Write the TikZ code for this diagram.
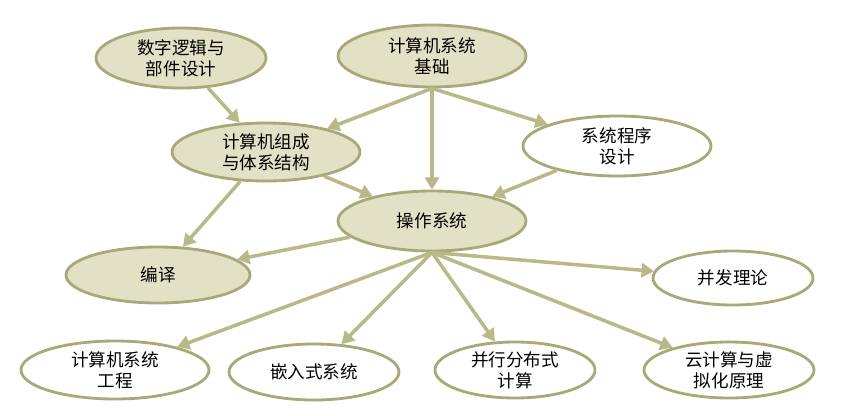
\documentclass[tikz,border=0pt]{standalone}
\usepackage{fontspec}
\newfontfamily\cjk{Noto Sans CJK SC}
\usetikzlibrary{shapes.geometric,arrows.meta}
\definecolor{olive}{HTML}{A8A878}
\definecolor{olivefill}{HTML}{E2E1C6}
\definecolor{arrowc}{HTML}{B8B888}
\begin{document}
\begin{tikzpicture}[x=0.02cm, y=-0.02cm,
            topic/.style={ellipse, draw=olive, line width=1.6pt, inner sep=0pt, font=\cjk\fontsize{10}{12}\selectfont, align=center},
            core/.style={topic, fill=olivefill},
            arrow/.style={-{Triangle[length=7pt,width=8pt]}, draw=arrowc, line width=2pt}
        ]
            \useasboundingbox (0,0) rectangle (849,416);
            \node[core, minimum width=170*0.02cm, minimum height=60*0.02cm] (logic) at (181,58) {数字逻辑与\\部件设计};
            \node[core, minimum width=188*0.02cm, minimum height=62*0.02cm] (basis) at (432,56) {计算机系统\\基础};
            \node[core, minimum width=188*0.02cm, minimum height=58*0.02cm] (arch) at (266,152) {计算机组成\\与体系结构};
            \node[topic, minimum width=188*0.02cm, minimum height=60*0.02cm] (sysprog) at (617,146) {系统程序\\设计};
            \node[core, minimum width=188*0.02cm, minimum height=60*0.02cm] (os) at (432,221) {操作系统};
            \node[core, minimum width=184*0.02cm, minimum height=56*0.02cm] (compiler) at (158,275) {编译};
            \node[topic, minimum width=160*0.02cm, minimum height=54*0.02cm] (concur) at (733,278) {并发理论};
            \node[topic, minimum width=188*0.02cm, minimum height=58*0.02cm] (syseng) at (115,370) {计算机系统\\工程};
            \node[topic, minimum width=170*0.02cm, minimum height=56*0.02cm] (embed) at (314,372) {嵌入式系统};
            \node[topic, minimum width=160*0.02cm, minimum height=56*0.02cm] (dist) at (515,370) {并行分布式\\计算};
            \node[topic, minimum width=170*0.02cm, minimum height=56*0.02cm] (cloud) at (729,370) {云计算与虚\\拟化原理};
            
            \draw[arrow] (logic) -- (arch);
            \draw[arrow] (basis.south) -- (arch);
            \draw[arrow] (basis.south) -- (os);
            \draw[arrow] (basis.south) -- (sysprog);
            \draw[arrow] (sysprog) -- (os);
            \draw[arrow] (arch) -- (os);
            \draw[arrow] (arch) -- (compiler);
            \draw[arrow] (os) -- (compiler);
            \draw[arrow] (os.south) -- (concur);
            \draw[arrow] (os.south) -- (syseng);
            \draw[arrow] (os.south) -- (embed);
            \draw[arrow] (os.south) -- (dist);
            \draw[arrow] (os.south) -- (cloud);
        \end{tikzpicture}
\end{document}
